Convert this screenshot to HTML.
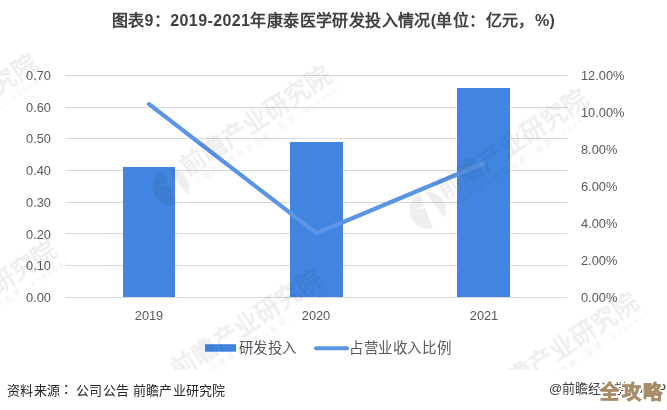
<!DOCTYPE html>
<html lang="zh-CN"><head><meta charset="utf-8">
<style>
html,body{margin:0;padding:0;background:#fff;}
body{-webkit-font-smoothing:antialiased;width:667px;height:410px;position:relative;overflow:hidden;font-family:"Liberation Sans",sans-serif;}
.t{position:absolute;will-change:transform;white-space:nowrap;line-height:1;}
.yl{color:#595959;font-size:12.8px;text-align:right;width:40px;}
.yr{color:#595959;font-size:12.8px;}
.xl{color:#595959;font-size:12.8px;width:60px;text-align:center;}
#title{letter-spacing:0.4px;left:0;width:667px;text-align:center;top:13px;font-size:16px;font-weight:bold;color:#404040;}
svg{position:absolute;left:0;top:0;}
</style></head><body>
<svg width="667" height="410" viewBox="0 0 667 410">
  <g stroke="#d9d9d9" stroke-width="1">
    <line x1="65.5" x2="567.5" y1="75.5" y2="75.5"/>
    <line x1="65.5" x2="567.5" y1="107.5" y2="107.5"/>
    <line x1="65.5" x2="567.5" y1="138.5" y2="138.5"/>
    <line x1="65.5" x2="567.5" y1="170.5" y2="170.5"/>
    <line x1="65.5" x2="567.5" y1="202.5" y2="202.5"/>
    <line x1="65.5" x2="567.5" y1="233.5" y2="233.5"/>
    <line x1="65.5" x2="567.5" y1="265.5" y2="265.5"/>
    <line x1="65.5" x2="567.5" y1="297.5" y2="297.5"/>
  </g>
  <g fill="#4285e0">
    <rect x="123" y="167" width="52" height="130"/>
    <rect x="290" y="142" width="53" height="155"/>
    <rect x="457" y="88" width="53" height="209"/>
  </g>
  <polyline points="149,104.1 316.5,233.2 483.7,163.3" fill="none" stroke="#5b95e6" stroke-width="4.2" stroke-linecap="round" stroke-linejoin="round"/>
  <rect x="205" y="344.2" width="31" height="7.5" fill="#4285e0"/>
  <line x1="316" y1="348.2" x2="347" y2="348.2" stroke="#5b95e6" stroke-width="4" stroke-linecap="round"/>
</svg>
<div id="title" class="t">图表9：2019-2021年康泰医学研发投入情况(单位：亿元，%)</div>

<div class="t yl" style="left:11px;top:70px">0.70</div>
<div class="t yl" style="left:11px;top:102px">0.60</div>
<div class="t yl" style="left:11px;top:133px">0.50</div>
<div class="t yl" style="left:11px;top:165px">0.40</div>
<div class="t yl" style="left:11px;top:197px">0.30</div>
<div class="t yl" style="left:11px;top:229px">0.20</div>
<div class="t yl" style="left:11px;top:260px">0.10</div>
<div class="t yl" style="left:11px;top:292px">0.00</div>

<div class="t yr" style="left:581px;top:70px">12.00%</div>
<div class="t yr" style="left:581px;top:107px">10.00%</div>
<div class="t yr" style="left:581px;top:144px">8.00%</div>
<div class="t yr" style="left:581px;top:181px">6.00%</div>
<div class="t yr" style="left:581px;top:218px">4.00%</div>
<div class="t yr" style="left:581px;top:255px">2.00%</div>
<div class="t yr" style="left:581px;top:292px">0.00%</div>

<div class="t xl" style="left:119px;top:310px">2019</div>
<div class="t xl" style="left:286px;top:310px">2020</div>
<div class="t xl" style="left:453.5px;top:310px">2021</div>

<div class="t" style="left:238.5px;top:340.5px;font-size:14.5px;letter-spacing:0.4px;color:#595959">研发投入</div>
<div class="t" style="left:349px;top:340.5px;font-size:14.5px;letter-spacing:0.6px;color:#595959">占营业收入比例</div>

<div class="t" style="left:7px;top:381.5px;font-size:13px;letter-spacing:0.25px;color:#262626">资料来源<span style="display:inline-block;width:16px;text-indent:3px;overflow:hidden">：</span>公司公告 前瞻产业研究院</div>
<div class="t" style="left:549px;top:382px;font-size:13px;color:#404040">@前瞻经济学人APP</div>
<svg width="667" height="410" viewBox="0 0 667 410" style="position:absolute;left:0;top:0">
<defs>
<clipPath id="pc" clipPathUnits="userSpaceOnUse"><rect x="0" y="0" width="667" height="370"/></clipPath>
<clipPath id="lc" clipPathUnits="userSpaceOnUse"><circle cx="-20" cy="0.15" r="18.3"/></clipPath>
<g id="wm">
<text x="0" y="0" font-size="24.6" font-weight="bold" font-family="Liberation Sans, sans-serif">前瞻产业研究院</text>
<text x="1.5" y="13" font-size="8" letter-spacing="2.2" font-family="Liberation Sans, sans-serif">中国产业咨询领导者（股票：839599）</text>
<g clip-path="url(#lc)">
<path d="M-60,-48 L-11.83,-43.2 L-20.3,-4.7 L-27.56,-7.91 L-28.16,-6.53 L-20.7,-3.2 L-32,47.7 L-60,47.7 Z"/>
<path d="M-12.98,-30.99 L-8.93,38.4 L20,38 L20,-31 Z"/>
</g>
</g>
</defs>
<g fill="#000" opacity="0.07" clip-path="url(#pc)">
<use href="#wm" transform="translate(187.6,176.2) rotate(-33.5)"/>
<use href="#wm" transform="translate(444.3,199.2) rotate(-33.5)"/>
<use href="#wm" transform="translate(-105.9,163.9) rotate(-33.5)"/>
<use href="#wm" transform="translate(-86.6,350.4) rotate(-33.5)"/>
<use href="#wm" transform="translate(178.6,379.3) rotate(-33.5)"/>
<use href="#wm" transform="translate(494.5,402.6) rotate(-33.5)"/>
</g>
</svg>
<div class="t" style="left:600px;top:383px;font-size:19px;letter-spacing:2.5px;font-weight:900;color:#fff;-webkit-text-stroke:3.5px #fff">全攻略</div>
<div class="t" style="left:600px;top:383px;font-size:19px;letter-spacing:2.5px;font-weight:900;color:#a88c69;-webkit-text-stroke:0.9px #a88c69">全攻略</div>
</body></html>
